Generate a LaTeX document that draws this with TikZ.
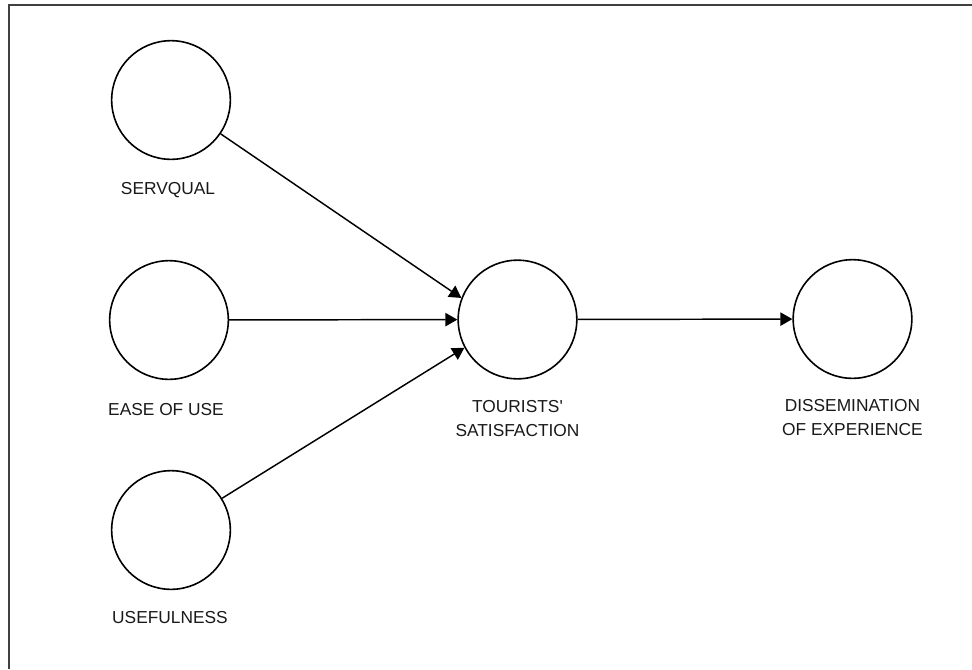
\documentclass[tikz,border=0pt]{standalone}
\usepackage{fontspec}
\setmainfont{Liberation Sans}
\usetikzlibrary{arrows.meta}

\begin{document}
\begin{tikzpicture}[x=0.75pt,y=-0.75pt,
    construct/.style={draw,circle,line width=1.2pt,minimum size=89pt,inner sep=0pt},
    caption/.style={align=center,font=\fontsize{13}{18}\selectfont,text=black!90},
    path/.style={line width=1.1pt,-{Triangle[length=9pt,width=10pt]}}]
    \useasboundingbox (0,0) rectangle (972,669);

    % Frame
    \draw[line width=0.9pt,black!75] (972,5) -- (9,5) -- (9,669);

    % Constructs
    \node[construct] (servqual) at (171,100) {};
    \node[construct] (easeofuse) at (169,320) {};
    \node[construct] (usefulness) at (171,530) {};
    \node[construct] (tourists) at (517.5,319.5) {};
    \node[construct] (dissem) at (852.5,319) {};

    \node[caption] (servqualtxt) at (168,190) {SERVQUAL};
    \node[caption] (easeofusetxt) at (166,410) {EASE OF USE};
    \node[caption] (usefulnesstxt) at (170,618) {USEFULNESS};
    \node[caption] (touriststxt) at (517.5,419) {TOURISTS\textquotesingle\\SATISFACTION};
    \node[caption] (dissemtxt) at (852.5,418) {DISSEMINATION\\OF EXPERIENCE};

    % Paths
    \draw[path] (servqual) -- (tourists.159);
    \draw[path] (easeofuse) -- (tourists);
    \draw[path] (usefulness) -- (tourists.208);
    \draw[path] (tourists) -- (dissem);
\end{tikzpicture}
\end{document}
